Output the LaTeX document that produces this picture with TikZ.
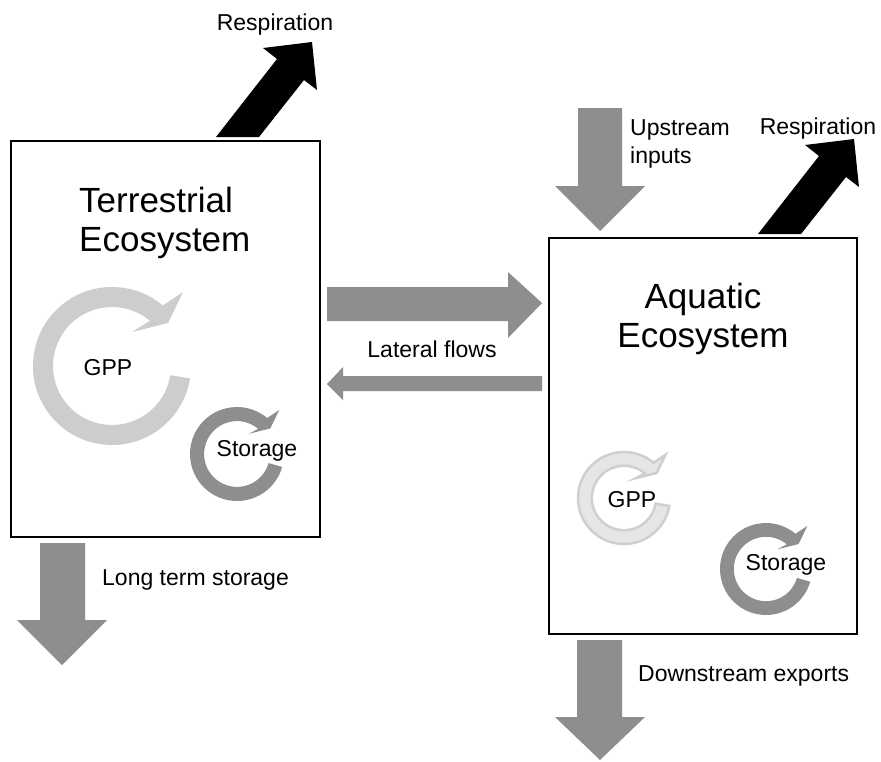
\documentclass[tikz,border=0pt]{standalone}
\usepackage{fontspec}
\setmainfont{Liberation Sans}
\definecolor{arrowgray}{HTML}{8E8E8E}
\definecolor{gppgray}{HTML}{CDCDCD}
\definecolor{gppfill}{HTML}{E6E6E6}
\definecolor{gppline}{HTML}{CFCFCF}
\newcommand{\ringarrow}[6]{%
  \begin{scope}[shift={(#1,#2)},scale=#3]
    \path[#6] (#5:1) arc[start angle=#5, end angle=310, radius=1]
      -- (0.899,-0.937) -- (0.709,-0.544) -- (0.253,-0.430)
      -- (310:#4) arc[start angle=310, end angle=#5, radius=#4] -- cycle;
  \end{scope}}
\begin{document}
\begin{tikzpicture}[x=1pt,y=-1pt,
  box/.style={draw=black,line width=2.5pt,fill=white},
  small/.style={font=\fontsize{23}{27}\selectfont,inner sep=0pt},
  big/.style={font=\fontsize{35}{40}\selectfont,inner sep=0pt},
  blockgray/.style={fill=arrowgray},
  blockblack/.style={fill=black}]
\useasboundingbox (0,0) rectangle (881,761);
\fill[white] (0,0) rectangle (881,761);

% boxes
\draw[box] (11,141) rectangle (320,537);
\draw[box] (549,238) rectangle (857,634);

% respiration arrows
\fill[blockblack] (216,137) -- (277,59) -- (263,48) -- (312,42) -- (317,90) -- (304,80) -- (259,137) -- cycle;
\begin{scope}[shift={(542,97)}]
\fill[blockblack] (216,137) -- (277,59) -- (263,48) -- (312,42) -- (317,90) -- (304,80) -- (259,137) -- cycle;
\end{scope}

% lateral flows
\fill[blockgray] (327,287) -- (508,287) -- (508,272) -- (542,303) -- (508,338) -- (508,321) -- (327,321) -- cycle;
\fill[blockgray] (542,376) -- (343,376) -- (343,367) -- (327,384) -- (343,400) -- (343,391) -- (542,391) -- cycle;

% upstream inputs
\fill[blockgray] (578,108) -- (622,108) -- (622,186) -- (645,186) -- (600,231) -- (555,186) -- (578,186) -- cycle;
% long term storage
\fill[blockgray] (40,543) -- (85,543) -- (85,620) -- (107,620) -- (62,665) -- (17,620) -- (40,620) -- cycle;
% downstream exports
\fill[blockgray] (577,640) -- (622,640) -- (622,717) -- (645,717) -- (600,760) -- (555,717) -- (577,717) -- cycle;

% cycle arrows
\ringarrow{112}{366}{79}{0.747}{9}{fill=gppgray}
\ringarrow{237}{454}{47}{0.70}{16}{fill=arrowgray}
\ringarrow{624}{498}{46}{0.70}{10}{fill=gppfill,draw=gppline,line width=2.5pt}
\ringarrow{766}{569}{46}{0.70}{16}{fill=arrowgray}

% texts
\node[big,anchor=base west] (t1) at (79,212) {Terrestrial};
\node[big,anchor=base west] (t2) at (79,251) {Ecosystem};
\node[big,anchor=base] (a1) at (703,308) {Aquatic};
\node[big,anchor=base] (a2) at (703,347) {Ecosystem};
\node[small,anchor=base] (r1) at (275,30) {Respiration};
\node[small,anchor=base] (r2) at (818,134) {Respiration};
\node[small,anchor=base west] (u1) at (630,135) {Upstream};
\node[small,anchor=base west] (u2) at (630,163) {inputs};
\node[small,anchor=base] (lat) at (432,357) {Lateral flows};
\node[small,anchor=base] (g1) at (108,375) {GPP};
\node[small,anchor=base] (s1) at (257,456) {Storage};
\node[small,anchor=base] (g2) at (632,507) {GPP};
\node[small,anchor=base] (s2) at (786,570) {Storage};
\node[small,anchor=base west] (lt) at (102,585) {Long term storage};
\node[small,anchor=base west] (ds) at (638,681) {Downstream exports};
\end{tikzpicture}
\end{document}
